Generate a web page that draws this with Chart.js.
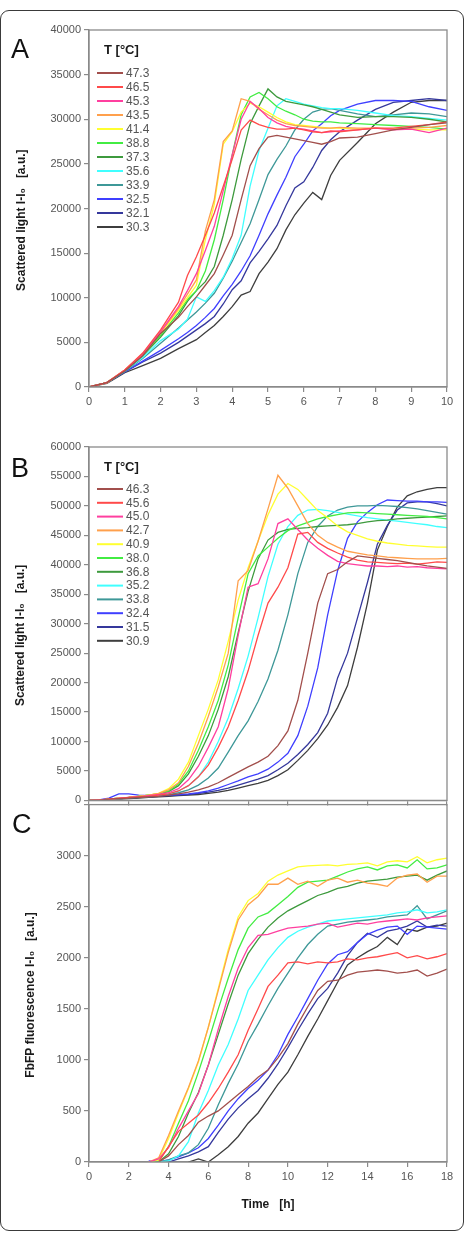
<!DOCTYPE html>
<html><head><meta charset="utf-8">
<script src="https://cdn.jsdelivr.net/npm/chart.js@4.4.0/dist/chart.umd.min.js"></script>
<style>
html,body{margin:0;padding:0;background:#fff;}
#wrap{position:relative;width:467px;height:1234px;overflow:hidden;background:#fff;}
#frame{position:absolute;left:0;top:10px;width:464px;height:1221px;border:1.5px solid #3a3a3a;border-radius:9px;box-sizing:border-box;}
canvas{position:absolute;left:0;}
</style></head>
<body><div id="wrap"><div id="frame"></div>
<canvas id="cA" width="467" height="415" style="top:0px"></canvas>
<canvas id="cB" width="467" height="395" style="top:415px"></canvas>
<canvas id="cC" width="467" height="439" style="top:795px"></canvas>
</div>
<script>
// ---------- Panel A: scattered light, time 0-10 h ----------
const timeA = [0,0.5,1,1.5,2,2.5,2.75,3,3.25,3.5,3.75,4,4.25,4.5,4.75,5,5.25,5.5,5.75,6,6.25,6.5,6.75,7,7.5,8,8.5,9,9.5,10];
const tempsA = ['47.3','46.5','45.3','43.5','41.4','38.8','37.3','35.6','33.9','32.5','32.1','30.3'];
const a473 = [0,500,1800,3500,6000,7800,9000,10100,11400,12700,14800,17000,21000,24800,26700,28000,28200,28000,27800,27600,27400,27200,27500,27900,28000,28400,28800,29100,29400,29600];
const a465 = [0,500,1900,3800,6400,9500,12500,14600,17000,19500,22500,25500,28800,29900,29400,29100,28900,28900,29000,28800,28600,28500,28700,28600,28800,29000,29000,29200,29400,29700];
const a453 = [0,500,1900,3700,6200,9000,10800,12700,15300,18000,22000,26000,30000,32000,31200,30200,29600,29200,29000,28900,28700,28500,28600,28700,28800,29000,28800,28900,28500,29000];
const a435 = [0,500,1900,3700,6100,8800,10400,12000,17500,21000,27500,28700,32300,32000,31100,30500,29900,29500,29300,29200,29100,29000,29000,29100,29000,29000,28900,29000,29100,29300];
const a414 = [0,500,1900,3700,6000,8600,10000,11400,16500,20500,27200,28600,30800,31800,31400,30800,30200,29700,29400,29300,29200,29100,29000,29000,28900,29000,28900,28900,28800,28800];
const a388 = [0,500,1850,3600,5800,8300,9800,10800,13000,16500,21000,26000,30500,32500,33000,32300,31400,30900,30500,30000,29800,29700,29700,29600,29500,29400,29300,29200,29100,28900];
const a373 = [0,500,1800,3500,5600,8000,9600,10800,11800,13500,17000,21000,25500,29500,31500,33400,32500,32000,31800,31600,31400,31100,30800,30500,30200,30300,30300,30200,30000,29700];
const a356 = [0,500,1800,3300,5200,6500,7600,10100,9600,10800,12300,14400,17000,22500,26500,29000,31500,32300,32000,31700,31500,31300,31200,31200,31000,30700,30400,30300,30100,29900];
const a339 = [0,500,1750,3200,4900,6600,7500,8400,9400,10500,12200,14100,16200,18300,21000,23800,25500,27000,28800,30000,30800,31100,31200,31000,30600,30300,30500,30700,30600,30300];
const a325 = [0,500,1700,2900,4100,5400,6100,6900,7800,8800,10200,11500,13000,14700,17000,19400,21500,23500,25800,27200,28700,29500,30400,31000,31700,32100,32100,32000,31400,31000];
const a321 = [0,500,1700,2800,3800,5000,5700,6400,7100,7900,9300,10900,11900,13900,15200,16600,18100,20300,22300,23000,24600,26500,27700,28600,29900,31100,31900,32100,32300,32100];
const a303 = [0,400,1600,2400,3200,4300,4800,5300,6100,6900,7900,9000,10300,10700,12700,14000,15500,17600,19300,20600,21800,21000,23700,25400,27400,29500,30800,31900,32100,32100];

// ---------- Panels B and C: time 0-18 h ----------
const timeBC = [0,0.5,1,1.5,2,2.5,3,3.5,4,4.5,5,5.5,6,6.5,7,7.5,8,8.5,9,9.5,10,10.5,11,11.5,12,12.5,13,13.5,14,14.5,15,15.5,16,16.5,17,17.5,18];
const tempsBC = ['46.3','45.6','45.0','42.7','40.9','38.0','36.8','35.2','33.8','32.4','31.5','30.9'];
// B: scattered light
const b463 = [0,0,200,300,400,500,600,700,900,1100,1400,1800,2300,3000,3900,4800,5700,6500,7500,9300,11800,17000,25000,33500,38500,39200,40500,41500,41300,41100,40900,40700,40400,40100,39800,39600,39400];
const b456 = [0,100,200,300,500,600,700,900,1100,1600,2500,4000,6000,9000,12500,17000,22000,28000,33500,36200,39500,45200,45500,43800,42800,42000,41300,40800,40500,40400,40300,40200,40300,40100,40300,40500,40400];
const b450 = [0,100,200,400,500,600,800,1000,1300,2000,3500,5800,9000,12500,19000,28000,36200,36800,41000,47000,47800,46000,44200,42800,41600,40600,40200,40000,39800,39800,39700,39800,39600,39700,39500,39400,39300];
const b427 = [0,0,200,400,500,700,900,1200,1800,3000,5800,9700,14300,19300,25000,37300,39000,44000,49500,55200,53000,50000,47000,45000,43800,43000,42300,42000,41700,41500,41300,41200,41100,41000,41000,41000,41100];
const b409 = [0,0,200,400,500,700,900,1200,2000,3600,6500,11000,15500,20500,27000,34000,39500,44000,48500,52000,53800,52800,51000,49200,48000,46600,45600,45000,44400,44000,43700,43500,43300,43200,43100,43000,43000];
const b380 = [0,0,200,400,500,700,900,1100,1600,2800,5000,8500,12500,17000,23000,31000,38500,41500,43000,44500,45800,46600,47200,47800,48200,48500,48800,48900,48800,48700,48600,48500,48400,48300,48200,48000,47800];
const b368 = [0,0,200,400,500,700,900,1100,1500,2500,4500,7500,11000,15500,21000,28500,35500,41000,44200,45500,46000,46200,46300,46500,46600,46700,46800,47000,47300,47500,47600,47800,47900,48000,48100,48200,48300];
const b352 = [0,0,200,300,500,600,700,900,1100,1600,2500,4000,6500,10000,14000,19000,24500,31000,38000,43500,46500,48400,49300,49400,49200,48900,48600,48300,48000,47800,47600,47400,47200,47000,46800,46500,46300];
const b338 = [0,0,200,300,400,500,600,800,1000,1300,1800,2600,3800,5500,8200,11000,13500,16800,20600,25500,31500,38500,43800,46500,48300,49300,49800,50000,50000,50100,50000,49900,49700,49500,49200,48900,48600];
const b324 = [0,100,400,1100,1100,900,800,900,900,1000,1100,1300,1600,2100,2700,3300,4000,4500,5300,6500,8000,11000,16000,22500,31500,39000,44500,47300,48900,50200,51000,50900,50800,50800,50700,50700,50600];
const b315 = [0,0,200,300,400,500,600,700,800,900,1000,1200,1400,1700,2100,2600,3100,3600,4200,5200,6300,7800,9500,11500,14800,20800,25000,31000,37000,43500,46700,49300,50500,50700,50700,50400,50000];
const b309 = [0,0,100,200,300,400,500,600,700,800,900,1000,1200,1400,1700,2100,2500,2900,3400,4200,5200,6800,8500,10500,12800,15800,19500,26000,33500,42500,46500,49800,51700,52400,52800,53100,53100];
// C: FbFP fluorescence
const c463 = [null,null,null,null,null,null,null,0,60,170,260,390,450,500,580,660,740,830,900,1020,1160,1350,1520,1680,1770,1780,1830,1860,1870,1880,1870,1850,1860,1880,1820,1850,1890];
const c456 = [null,null,null,null,null,null,null,0,150,300,380,460,580,720,880,1050,1290,1500,1720,1830,1950,1960,1940,1960,1950,1960,1990,1980,2000,2010,2030,2050,2000,2020,1990,2010,2040];
const c450 = [null,null,null,null,null,null,0,30,140,330,500,670,950,1300,1620,1900,2100,2220,2230,2260,2290,2300,2310,2330,2340,2300,2320,2340,2330,2350,2360,2370,2380,2370,2390,2400,2410];
const c427 = [null,null,null,null,null,null,0,40,260,500,730,990,1320,1680,2050,2370,2520,2600,2720,2720,2780,2720,2750,2700,2760,2780,2740,2760,2730,2720,2700,2780,2810,2820,2740,2800,2800];
const c409 = [null,null,null,null,null,null,0,20,230,480,720,980,1320,1700,2080,2400,2560,2630,2750,2810,2850,2890,2900,2905,2910,2900,2915,2920,2930,2900,2940,2950,2940,2990,2930,2960,2975];
const c380 = [null,null,null,null,null,null,0,10,150,380,600,880,1180,1500,1800,2080,2290,2400,2440,2520,2600,2690,2740,2750,2760,2800,2840,2870,2890,2860,2900,2910,2880,2960,2870,2880,2910];
const c368 = [null,null,null,null,null,null,null,0,80,250,480,680,950,1250,1550,1830,2040,2180,2300,2390,2460,2510,2560,2610,2640,2680,2700,2730,2750,2760,2770,2790,2800,2810,2760,2810,2850];
const c352 = [null,null,null,null,null,null,null,0,10,60,200,480,700,950,1150,1400,1680,1830,1980,2100,2200,2260,2300,2330,2360,2370,2380,2390,2400,2410,2420,2440,2450,2470,2440,2450,2470];
const c338 = [null,null,null,null,null,null,null,0,20,60,90,170,330,560,770,960,1180,1350,1530,1700,1850,2000,2130,2230,2310,2330,2350,2360,2370,2380,2400,2410,2420,2510,2380,2420,2460];
const c324 = [null,null,null,null,null,null,10,0,20,50,90,140,230,360,500,620,720,800,900,1050,1250,1420,1600,1780,1940,2030,2060,2150,2230,2270,2300,2310,2230,2310,2300,2290,2280];
const c315 = [null,null,null,null,null,null,0,0,0,30,60,100,150,290,420,530,620,700,820,960,1120,1290,1450,1600,1700,1850,2020,2150,2240,2200,2260,2280,2310,2360,2300,2320,2310];
const c309 = [null,null,null,null,null,null,null,null,null,null,0,30,0,70,150,250,380,480,620,760,880,1050,1230,1400,1580,1760,1930,2000,2060,2110,2200,2130,2280,2260,2300,2310,2340];

// axis ticks
const ticksA_y = {min:0, max:40000, step:5000};
const ticksB_y = {min:0, max:60000, step:5000};
const ticksC_y = {min:0, max:3500, step:500, hidden:3500};

const palette = ['#a24f4c','#ff4a4a','#ff3f9f','#ffa04c','#ffff30','#42ec42','#3d9a3d','#40ffff','#3e9898','#3f3fff','#35389c','#3e3e3e'];

const FAM = '"Liberation Sans","DejaVu Sans",Arial,sans-serif';

const boxPlugin = {
  id: 'boxPlugin',
  afterDraw(chart, args, o) {
    const ctx = chart.ctx, a = chart.chartArea;
    ctx.save();
    ctx.strokeStyle = '#8a8a8a'; ctx.lineWidth = 1.3;
    ctx.strokeRect(a.left, a.top, a.right - a.left, a.bottom - a.top);
    if (o.letter) {
      ctx.fillStyle = '#111'; ctx.font = '27px ' + FAM; ctx.textBaseline = 'alphabetic';
      ctx.fillText(o.letter, o.letterX, o.letterY);
    }
    if (o.legend) {
      ctx.textBaseline = 'middle';
      ctx.fillStyle = '#1a1a1a'; ctx.font = 'bold 13px ' + FAM;
      ctx.fillText('T [°C]', o.lx + 7, o.ltY);
      ctx.font = '12px ' + FAM;
      chart.data.datasets.forEach((ds, i) => {
        const y = o.ly0 + i * o.ldy;
        ctx.strokeStyle = ds.borderColor; ctx.lineWidth = 2;
        ctx.beginPath(); ctx.moveTo(o.lx, y); ctx.lineTo(o.lx + 26, y); ctx.stroke();
        ctx.fillStyle = '#555';
        ctx.fillText(ds.label, o.lx + 29, y + 0.5);
      });
    }
    ctx.restore();
  }
};

function buildSets(times, list, labels) {
  return list.map((arr, i) => ({
    label: labels[i],
    data: times.map((t, j) => ({x: t, y: arr[j]})),
    borderColor: palette[i], backgroundColor: palette[i],
    borderWidth: 1.3, pointRadius: 0, tension: 0, fill: false
  }));
}

function makeChart(id, sets, cfg) {
  const tickFont = {family: FAM, size: 11};
  return new Chart(document.getElementById(id), {
    type: 'line',
    data: {datasets: sets},
    options: {
      responsive: false, animation: false, devicePixelRatio: 1,
      layout: {padding: {left: cfg.padLeft, right: 20, top: cfg.padTop, bottom: 0}},
      plugins: {legend: {display: false}, tooltip: {enabled: false}, boxPlugin: cfg.box},
      scales: {
        x: {
          type: 'linear', min: cfg.xmin, max: cfg.xmax,
          ticks: {stepSize: cfg.xstep, autoSkip: false, maxRotation: 0, color: '#555', font: tickFont, padding: 3,
                  callback: cfg.xLabels ? (v => String(v)) : (() => '')},
          grid: {drawOnChartArea: false, drawTicks: true, tickLength: 5, color: '#8a8a8a', lineWidth: 1.2},
          border: {color: '#8a8a8a', width: 1.3},
          title: cfg.xTitle ? {display: true, text: cfg.xTitle, color: '#1a1a1a',
                 font: {family: FAM, size: 12, weight: 'bold'}, padding: {top: 0, bottom: 22}} : {display: false},
          afterFit: s => { s.height = cfg.xHeight; }
        },
        y: {
          type: 'linear', min: cfg.y.min, max: cfg.y.max,
          ticks: {stepSize: cfg.y.step, autoSkip: false, maxTicksLimit: 30, color: '#555', font: tickFont, padding: 3,
                  callback: v => (v === cfg.y.hidden ? '' : String(v))},
          grid: {drawOnChartArea: false, drawTicks: true, tickLength: 5, color: '#8a8a8a', lineWidth: 1.2},
          border: {color: '#8a8a8a', width: 1.3},
          title: {display: true, text: cfg.yTitle, color: '#1a1a1a',
                  font: {family: FAM, size: 12, weight: 'bold'}, padding: 0},
          afterFit: s => { s.width = 89 - cfg.padLeft; }
        }
      }
    },
    plugins: [boxPlugin]
  });
}

const pad = '\u00a0\u00a0\u00a0\u00a0\u00a0\u00a0\u00a0';
makeChart('cA', buildSets(timeA, [a473,a465,a453,a435,a414,a388,a373,a356,a339,a325,a321,a303], tempsA), {
  padLeft: 14, padTop: 30, xmin: 0, xmax: 10, xstep: 1, xLabels: true, xHeight: 28,
  y: ticksA_y, yTitle: 'Scattered light I-I\u2080   [a.u.]' + pad,
  box: {letter: 'A', letterX: 11, letterY: 58, legend: true, lx: 97, ltY: 50, ly0: 73, ldy: 14}
});
makeChart('cB', buildSets(timeBC, [b463,b456,b450,b427,b409,b380,b368,b352,b338,b324,b315,b309], tempsBC), {
  padLeft: 13, padTop: 32, xmin: 0, xmax: 18, xstep: 2, xLabels: false, xHeight: 7,
  y: ticksB_y, yTitle: 'Scattered light I-I\u2080   [a.u.]' + pad,
  box: {letter: 'B', letterX: 11, letterY: 62, legend: true, lx: 97, ltY: 52, ly0: 74, ldy: 13.8}
});
makeChart('cC', buildSets(timeBC, [c463,c456,c450,c427,c409,c380,c368,c352,c338,c324,c315,c309], tempsBC), {
  padLeft: 23, padTop: 9, xmin: 0, xmax: 18, xstep: 2, xLabels: true, xHeight: 72, xTitle: 'Time   [h]',
  y: ticksC_y, yTitle: 'FbFP fluorescence I-I\u2080   [a.u.]' + pad,
  box: {letter: 'C', letterX: 12, letterY: 38, legend: false}
});
</script>
</body></html>
